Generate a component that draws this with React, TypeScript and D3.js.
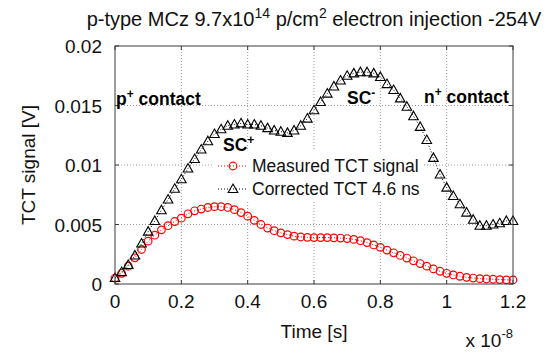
import React from "react";
import * as d3 from "d3";

// time in units of 1e-8 s
const timeValues = [
  0, 0.02, 0.04, 0.06, 0.08, 0.1, 0.12, 0.14, 0.16, 0.18,
  0.2, 0.22, 0.24, 0.26, 0.28, 0.3, 0.32, 0.34, 0.36, 0.38,
  0.4, 0.42, 0.44, 0.46, 0.48, 0.5, 0.52, 0.54, 0.56, 0.58,
  0.6, 0.62, 0.64, 0.66, 0.68, 0.7, 0.72, 0.74, 0.76, 0.78,
  0.8, 0.82, 0.84, 0.86, 0.88, 0.9, 0.92, 0.94, 0.96, 0.98,
  1.0, 1.02, 1.04, 1.06, 1.08, 1.1, 1.12, 1.14, 1.16, 1.18, 1.2,
];

const measuredSignal = [
  0.0005, 0.0009, 0.0015, 0.0022, 0.0029, 0.0036, 0.0041, 0.00455, 0.0049, 0.00525,
  0.00553, 0.0059, 0.00615, 0.0063, 0.00643, 0.0065, 0.0065, 0.00643, 0.00625, 0.006,
  0.0057, 0.00535, 0.005, 0.0047, 0.00448, 0.0043, 0.00415, 0.00402, 0.00395, 0.00392,
  0.0039, 0.0039, 0.0039, 0.00388, 0.00386, 0.00382, 0.00375, 0.00364, 0.00348, 0.00328,
  0.00308, 0.00285, 0.00262, 0.0024, 0.00218, 0.00195, 0.00172, 0.0015, 0.00127, 0.00107,
  0.0009, 0.00076, 0.00065, 0.00056, 0.0005, 0.00045, 0.00042, 0.0004, 0.00037, 0.00035, 0.00034,
];

const correctedSignal = [
  0.0005, 0.001, 0.0016, 0.0024, 0.0034, 0.0044, 0.0053, 0.0062, 0.0071, 0.008,
  0.0088, 0.0097, 0.0105, 0.0113, 0.012, 0.0126, 0.013, 0.0133, 0.0134, 0.0135,
  0.0134, 0.0134, 0.0133, 0.0131, 0.0129, 0.0128, 0.0127, 0.0129, 0.0133, 0.0139,
  0.0146, 0.0153, 0.016, 0.0166, 0.0171, 0.0175, 0.0177, 0.0178, 0.0178, 0.0177,
  0.0174, 0.0168, 0.0163, 0.0156, 0.0149, 0.0141, 0.0132, 0.0121, 0.0106, 0.0092,
  0.0081, 0.0074, 0.0067, 0.006, 0.0054, 0.0049, 0.0049, 0.005, 0.0051, 0.0053, 0.0053,
];

const xTicks = [0, 0.2, 0.4, 0.6, 0.8, 1.0, 1.2];
const xTickLabels = ["0", "0.2", "0.4", "0.6", "0.8", "1", "1.2"];
const yTicks = [0, 0.005, 0.01, 0.015, 0.02];
const yTickLabels = ["0", "0.005", "0.01", "0.015", "0.02"];
const legendLabels = ["Measured TCT signal", "Corrected TCT 4.6 ns"];

const W = 553;
const H = 354;
const L = 115, R = 513, T = 46, B = 284;
const FONT = "'Liberation Sans', Arial, Helvetica, sans-serif";
const FRAME = "#3a3a3a";
const RED = "#ff0000";
const AX_FS = 19;

export default function App() {
  const x = d3.scaleLinear().domain([0, 1.2]).range([L, R]);
  const y = d3.scaleLinear().domain([0, 0.02]).range([B, T]);

  const measured = timeValues.map((t, i) => [t, measuredSignal[i]] as [number, number]);
  const corrected = timeValues.map((t, i) => [t, correctedSignal[i]] as [number, number]);
  const line = d3
    .line<[number, number]>()
    .x((d) => x(d[0]))
    .y((d) => y(d[1]));

  const tri = (cx: number, cy: number) =>
    `M${cx},${cy - 5} L${cx + 4.8},${cy + 3.5} L${cx - 4.8},${cy + 3.5} Z`;

  return (
    <svg
      width={W}
      height={H}
      style={{ position: "absolute", left: 0, top: 0, background: "#fff" }}
      fontFamily={FONT}
    >
      <rect x={0} y={0} width={W} height={H} fill="#fff" />
      {/* grid */}
      {xTicks.slice(1, -1).map((t) => (
        <line key={"gx" + t} x1={x(t)} x2={x(t)} y1={T} y2={B} stroke="#9a9a9a" strokeWidth={1} strokeDasharray="1,2" />
      ))}
      {yTicks.slice(1, -1).map((t) => (
        <line key={"gy" + t} x1={L} x2={R} y1={y(t)} y2={y(t)} stroke="#9a9a9a" strokeWidth={1} strokeDasharray="1,2" />
      ))}

      {/* legend background */}
      <rect x={212} y={151} width={210} height={49} fill="#fff" />

      {/* data lines */}
      <path d={line(measured) || ""} fill="none" stroke={RED} strokeWidth={1} strokeDasharray="1,2" />
      <path d={line(corrected) || ""} fill="none" stroke="#000" strokeWidth={1} strokeDasharray="1,2" />
      {measured.map((d, i) => (
        <circle key={"m" + i} cx={x(d[0])} cy={y(d[1])} r={3.8} fill="none" stroke={RED} strokeWidth={1.2} />
      ))}
      {corrected.map((d, i) => (
        <path key={"c" + i} d={tri(x(d[0]), y(d[1]))} fill="none" stroke="#000" strokeWidth={1.1} />
      ))}

      {/* frame */}
      <rect x={L} y={T} width={R - L} height={B - T} fill="none" stroke={FRAME} strokeWidth={1} />
      {xTicks.map((t) => (
        <g key={"tx" + t}>
          <line x1={x(t)} x2={x(t)} y1={B} y2={B - 4} stroke={FRAME} />
          <line x1={x(t)} x2={x(t)} y1={T} y2={T + 4} stroke={FRAME} />
        </g>
      ))}
      {yTicks.map((t) => (
        <g key={"ty" + t}>
          <line x1={L} x2={L + 4} y1={y(t)} y2={y(t)} stroke={FRAME} />
          <line x1={R} x2={R - 4} y1={y(t)} y2={y(t)} stroke={FRAME} />
        </g>
      ))}

      {/* tick labels */}
      {xTicks.map((t, i) => (
        <text key={"lx" + t} x={x(t)} y={308} fontSize={AX_FS} textAnchor="middle" fill="#111">
          {xTickLabels[i]}
        </text>
      ))}
      {yTicks.map((t, i) => (
        <text key={"ly" + t} x={102} y={y(t) + 7} fontSize={AX_FS} textAnchor="end" fill="#111">
          {yTickLabels[i]}
        </text>
      ))}

      {/* axis labels */}
      <text x={(L + R) / 2} y={338} fontSize={AX_FS} textAnchor="middle" fill="#111">Time [s]</text>
      <text transform={`translate(35,${(T + B) / 2}) rotate(-90)`} fontSize={AX_FS} textAnchor="middle" fill="#111">
        TCT signal [V]
      </text>
      <text x={R} y={347} fontSize={AX_FS} textAnchor="end" fill="#111">
        x 10<tspan fontSize={13} dy={-9}>-8</tspan>
      </text>

      {/* title */}
      <text x={(L + R) / 2} y={26} fontSize={20} textAnchor="middle" fill="#111">
        p-type MCz 9.7x10<tspan fontSize={14} dy={-8}>14</tspan>
        <tspan dy={8}> p/cm</tspan>
        <tspan fontSize={14} dy={-8}>2</tspan>
        <tspan dy={8}> electron injection -254V</tspan>
      </text>

      {/* annotations */}
      <text x={116} y={105} fontSize={17.5} fontWeight="bold" fill="#000">
        p<tspan fontSize={12} dy={-7}>+</tspan>
        <tspan dy={7}> contact</tspan>
      </text>
      <text x={424} y={103} fontSize={17.5} fontWeight="bold" fill="#000">
        n<tspan fontSize={12} dy={-7}>+</tspan>
        <tspan dy={7}> contact</tspan>
      </text>
      <text x={223} y={151} fontSize={17.5} fontWeight="bold" fill="#000">
        SC<tspan fontSize={12} dy={-7}>+</tspan>
      </text>
      <text x={347} y={104} fontSize={17.5} fontWeight="bold" fill="#000">
        SC<tspan fontSize={12} dy={-7}>-</tspan>
      </text>

      {/* legend */}
      <line x1={218} x2={248} y1={166} y2={166} stroke={RED} strokeDasharray="1,2" />
      <circle cx={233} cy={166} r={3.8} fill="none" stroke={RED} strokeWidth={1.2} />
      <text x={252} y={172} fontSize={17.5} fill="#111">{legendLabels[0]}</text>
      <line x1={218} x2={248} y1={189} y2={189} stroke="#000" strokeDasharray="1,2" />
      <path d={tri(233, 189)} fill="none" stroke="#000" strokeWidth={1.1} />
      <text x={252} y={195} fontSize={17.5} fill="#111">{legendLabels[1]}</text>
    </svg>
  );
}
